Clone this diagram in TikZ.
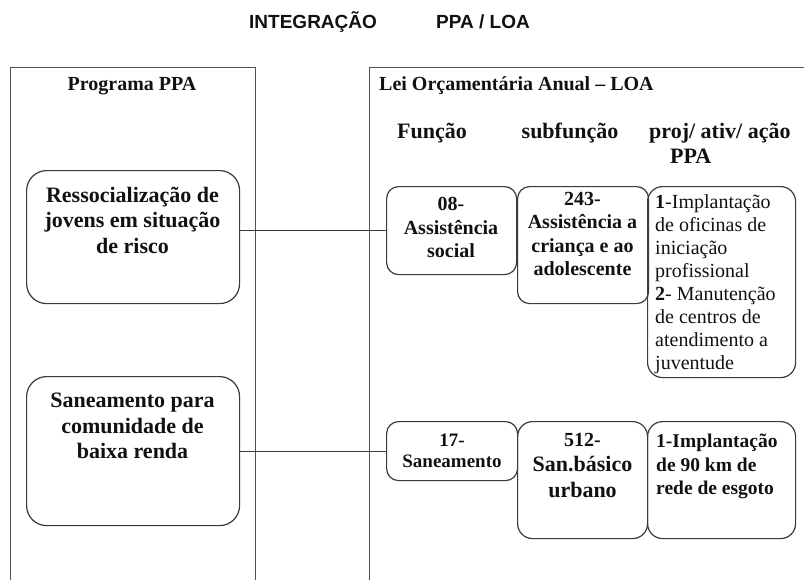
\documentclass[tikz,border=0pt]{standalone}
\usepackage{fontspec}
\setmainfont{Liberation Serif}
\newfontfamily\titlefont{Liberation Sans}
\definecolor{frame}{HTML}{505050}
\definecolor{boxline}{HTML}{3A3A3A}
\definecolor{ink}{HTML}{111111}
\tikzset{
  panel/.style={draw=frame, line width=1.4pt, fill=none, inner sep=0pt},
  bigbox/.style={draw=boxline, line width=1.2pt, rounded corners=20pt, inner sep=0pt},
  smallbox/.style={draw=boxline, line width=1.2pt, rounded corners=12pt, inner sep=0pt},
  txt/.style={inner sep=0pt, text=ink},
  bigtxt/.style={txt, align=center, font=\bfseries\fontsize{22}{25.3}\selectfont},
  midtxt/.style={txt, align=center, font=\bfseries\fontsize{20}{23.5}\selectfont},
  projtxt/.style={txt, align=left, font=\fontsize{20}{23}\selectfont},
  headtxt/.style={txt, font=\bfseries\fontsize{22}{25}\selectfont},
  ttl/.style={txt, font=\titlefont\bfseries\fontsize{19}{22}\selectfont},
  link/.style={draw=boxline, line width=1.2pt}
}
\begin{document}
\begin{tikzpicture}[x=1pt,y=-1pt]
\useasboundingbox (0,0) rectangle (804,579);
\clip (0,0) rectangle (804,579);
% title
\node[ttl, anchor=base west] (t1) at (249,28) {INTEGRAÇÃO};
\node[ttl, anchor=base west] (t2) at (436,28) {PPA / LOA};
% panels
\node[panel, anchor=north west, minimum width=245pt, minimum height=560pt] (ppa) at (10,67) {};
\node[panel, anchor=north west, minimum width=470pt, minimum height=560pt] (loa) at (369,67) {};
\node[headtxt, font=\bfseries\fontsize{20}{24}\selectfont, anchor=base] (ppat) at (132,90) {Programa PPA};
\node[headtxt, font=\bfseries\fontsize{20}{24}\selectfont, anchor=base west] (loat) at (379,90) {Lei Orçamentária Anual – LOA};
% column headers
\node[headtxt, anchor=base] (h1) at (432,138) {Função};
\node[headtxt, anchor=base] (h2) at (570,138) {subfunção};
\node[headtxt, align=left, anchor=north west] (h3) at (649,123) {proj/ ativ/ ação\\\hspace*{21pt}PPA};
% PPA programs
\node[bigbox, anchor=north west, minimum width=213pt, minimum height=133pt] (p1) at (26,170) {};
\node[bigtxt, anchor=north] (p1t) at (132.5,187) {Ressocialização de\\jovens em situação\\de risco};
\node[bigbox, anchor=north west, minimum width=213pt, minimum height=149pt] (p2) at (26,376) {};
\node[bigtxt, anchor=north] (p2t) at (132.5,393) {Saneamento para\\comunidade de\\baixa renda};
% row 1
\node[smallbox, anchor=north west, minimum width=130pt, minimum height=88pt] (f1) at (386,186) {};
\node[midtxt, anchor=north] (f1t) at (451,197) {08-\\Assistência\\social};
\node[smallbox, anchor=north west, minimum width=131pt, minimum height=117pt] (s1) at (517,186) {};
\node[midtxt, anchor=north] (s1t) at (582.5,192) {243-\\Assistência a\\criança e ao\\adolescente};
\node[smallbox, rounded corners=15pt, anchor=north west, minimum width=148pt, minimum height=191pt] (a1) at (647,186) {};
\node[projtxt, anchor=north west] (a1t) at (655,194) {\textbf{1}-Implantação\\de oficinas de\\iniciação\\profissional\\\textbf{2}- Manutenção\\de centros de\\atendimento a\\juventude};
% row 2
\node[smallbox, anchor=north west, minimum width=131pt, minimum height=59pt] (f2) at (386,421) {};
\node[midtxt, font=\bfseries\fontsize{19}{21}\selectfont, anchor=north] (f2t) at (452,434) {17-\\Saneamento};
\node[smallbox, rounded corners=15pt, anchor=north west, minimum width=130pt, minimum height=117pt] (s2) at (517,421) {};
\node[midtxt, font=\bfseries\fontsize{22}{25.5}\selectfont, anchor=north] (s2t) at (582.5,433) {\fontsize{20}{25.5}\selectfont 512-\\San.básico\\urbano};
\node[smallbox, rounded corners=15pt, anchor=north west, minimum width=148pt, minimum height=117pt] (a2) at (647,421) {};
\node[projtxt, font=\bfseries\fontsize{19.5}{23.5}\selectfont, anchor=north west] (a2t) at (656,434) {1-Implantação\\de 90 km de\\rede de esgoto};
% connectors
\draw[link] (p1.east |- f1.west) -- (f1.west);
\draw[link] (p2.east |- f2.west) -- (f2.west);
\end{tikzpicture}
\end{document}
